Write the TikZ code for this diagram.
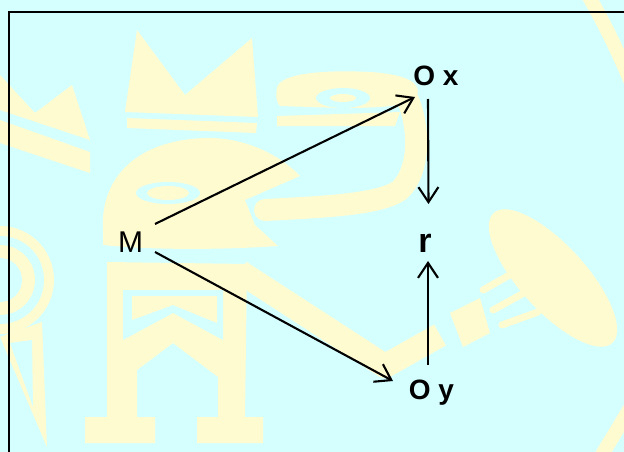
\documentclass[tikz,border=0pt]{standalone}
\usepackage{fontspec}
\setmainfont{Liberation Sans}
\usetikzlibrary{arrows.meta,calc}
\definecolor{bgc}{HTML}{D5FFFF}
\definecolor{wmc}{HTML}{FFFBD0}
\begin{document}
\begin{tikzpicture}[x=1pt,y=-1pt,
  wm/.style={fill=wmc},
  wmline/.style={draw=wmc,line cap=round},
  hole/.style={fill=bgc},
  arr/.style={line width=2.1pt,-{Straight Barb[length=15pt,width=20pt,line width=2.1pt]}},
  lbl/.style={inner sep=0pt,anchor=base,font=\fontsize{28}{30}\selectfont\bfseries},
  plain/.style={inner sep=0pt,anchor=base,font=\fontsize{30}{32}\selectfont}]
\useasboundingbox (0,0) rectangle (624,452);
\fill[bgc] (0,0) rectangle (624,452);
\begin{scope}
\clip (0,0) rectangle (624,452);
% crown
\fill[wm] (125,112) -- (137,30) -- (185,95) -- (252,38) -- (258,117) -- cycle;
\fill[wm] (127,118) -- (257,123) -- (256,133) -- (127,128) -- cycle;
% left crown
\fill[wm] (0,75) -- (35,113) -- (72,85) -- (90,140) -- (0,110) -- cycle;
\fill[wm] (0,120) -- (90,152) -- (90,173) -- (0,143) -- cycle;
% head
\fill[wm] (103,230) .. controls (100,175) and (140,140) .. (205,138)
  .. controls (245,137) and (280,155) .. (300,176) -- (245,200) -- (255,225)
  -- (278,246) .. controls (220,250) and (150,250) .. (103,245) -- cycle;
\fill[hole] (168,193) ellipse [x radius=32, y radius=11];
\fill[wm] (168,193) ellipse [x radius=21, y radius=7];
% neck
\draw[wmline,line width=22pt] (408,100) .. controls (420,130) and (420,170) .. (400,190)
  .. controls (380,205) and (320,207) .. (265,210);
% snake head
\fill[wm] (277,88) .. controls (280,72) and (330,70) .. (370,72)
  .. controls (400,74) and (418,80) .. (418,92)
  .. controls (418,105) and (390,108) .. (340,108) -- (280,106) .. controls (275,100) and (276,94) .. (277,88) -- cycle;
\fill[wm] (277,116) -- (340,114) -- (400,112) -- (395,126) -- (277,126) -- cycle;
\fill[hole] (343,98) ellipse [x radius=27, y radius=10];
\fill[wm] (343,98) ellipse [x radius=13, y radius=4];
% body and legs
\fill[wm] (107,262) -- (247,264) -- (245,417) -- (263,417) -- (263,443) -- (197,443)
  -- (197,417) -- (218,417) -- (218,377) -- (173,343) -- (137,370) -- (137,417)
  -- (155,417) -- (155,443) -- (85,443) -- (85,417) -- (107,417) -- cycle;
\fill[hole] (123,290) -- (223,290) -- (223,340) -- (173,313) -- (123,340) -- cycle;
\fill[wm] (132,296) -- (217,296) -- (217,323) -- (173,305) -- (132,320) -- cycle;
% arm
\draw[wmline,line width=24pt,line cap=butt,line join=round] (240,272) -- (385,366) -- (440,335);
\fill[wm] (450,313) -- (480,298) -- (490,333) -- (463,347) -- cycle;
% club
\fill[wm,shift={(553,278)},rotate=-47.6] (0,0) ellipse [x radius=88, y radius=33];
\draw[wmline,line width=7pt] (483,290) -- (522,268);
\draw[wmline,line width=7pt] (493,310) -- (535,287);
\draw[wmline,line width=7pt] (502,325) -- (538,312);
% right arcs
\draw[wmline,line width=14pt,line cap=butt] (588,-5) .. controls (605,25) and (615,45) .. (630,80);
\draw[wmline,line width=14pt,line cap=butt] (632,405) -- (600,458);
% left rings
\fill[wm] (0,280) circle [radius=54];
\fill[hole] (0,280) circle [radius=44];
\fill[wm] (0,280) circle [radius=35];
\fill[hole] (0,280) circle [radius=22];
\fill[wm] (0,337) -- (42,322) -- (47,447) -- cycle;
\fill[hole] (10,343) -- (32,340) -- (33,407) -- cycle;
\end{scope}
% frame
\begin{scope}
\clip (0,0) rectangle (624,452);
\draw[line width=2pt] (8.5,460) -- (8.5,12) -- (630,12);
\end{scope}
% nodes
\node[lbl] (Ox) at (436,85) {O x};
\node[lbl] (Oy) at (431.5,399) {O y};
\node[lbl,font=\fontsize{34}{36}\selectfont\bfseries] (r) at (425,252) {r};
\node[plain] (M) at (130.5,252) {M};
% connectors
\draw[arr] ($(M.base)+(24.5,-28)$) -- ($(Ox.base)+(-21,12)$);
\draw[arr] ($(M.base)+(24.5,0)$) -- ($(Oy.base)+(-38.5,-18)$);
\draw[arr] ($(Ox.base)+(-8,14)$) -- ($(r.base)+(3.5,-48)$);
\draw[arr] ($(Oy.base)+(-3.5,-34)$) -- ($(r.base)+(3,9)$);
\end{tikzpicture}
\end{document}
